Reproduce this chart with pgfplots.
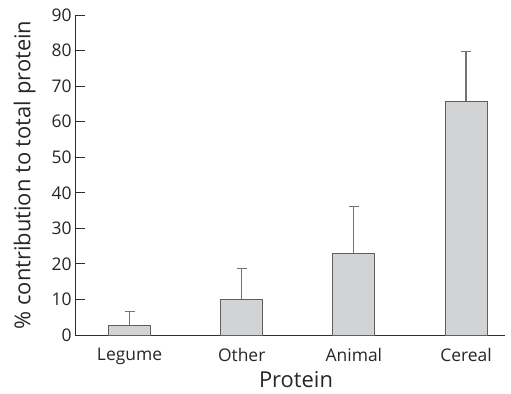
\documentclass[border=0pt]{standalone}
\usepackage{pgfplots}
\pgfplotsset{compat=1.18}
\usepackage{fontspec}
\setmainfont{Open Sans}
\definecolor{barfill}{RGB}{210,211,213}
\definecolor{baredge}{RGB}{95,95,95}
\definecolor{axiscol}{RGB}{45,45,45}
\definecolor{errcol}{RGB}{115,115,115}
\begin{document}
\begin{tikzpicture}
\begin{axis}[
  name=ax,
  scale only axis,
  width=430bp, height=320bp,
  xmin=-0.486, xmax=3.347,
  ymin=0, ymax=90,
  axis x line=bottom, axis y line=left,
  axis line style={axiscol, line width=0.9pt, -},
  xtick={0,1,2,3},
  xticklabels={Legume,Other,Animal,Cereal},
  x tick style={draw=none},
  ytick={0,10,...,90},
  y tick style={axiscol, line width=0.9pt},
  tick align=inside,
  major tick length=10bp,
  /pgf/number format/assume math mode=true,
  tick label style={font=\fontsize{17.5}{17.5}\selectfont, text=black!85},
  label style={font=\fontsize{22}{22}\selectfont, text=black!85},
  xlabel={Protein},
  xlabel style={xshift=6bp, yshift=1bp},
  ylabel={\% contribution to total protein},
  ylabel style={yshift=9bp},
  ybar, bar width=42bp, bar shift=0pt,
]
\addplot[fill=barfill, draw=baredge, line width=1pt,
  error bars/.cd, y dir=plus, y explicit,
  error bar style={errcol, line width=1.2pt},
  error mark options={rotate=90, mark size=5bp, errcol, line width=1.2pt}]
  coordinates {
  (0,2.8) +- (0,3.8)
  (1,10.0) +- (0,8.6)
  (2,22.8) +- (0,13.3)
  (3,65.8) +- (0,13.9)
};
\end{axis}
\pgfresetboundingbox
\path ([shift={(-75bp,-59bp)}]ax.south west) rectangle ([shift={(6bp,15bp)}]ax.north east);
\end{tikzpicture}
\end{document}
